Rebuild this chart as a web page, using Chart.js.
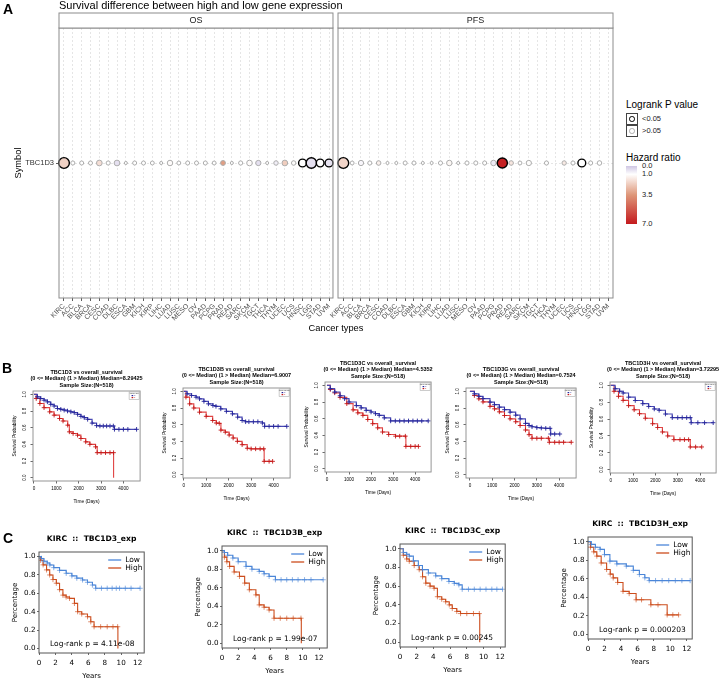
<!DOCTYPE html>
<html>
<head>
<meta charset="utf-8">
<title>TBC1D3 survival</title>
<script src="https://cdn.jsdelivr.net/npm/chart.js@4.4.1/dist/chart.umd.min.js"></script>
<style>
  body { margin: 0; background: #fff; }
  #page { position: relative; width: 724px; height: 681px; overflow: hidden; font-family: "Liberation Sans", Arial, sans-serif; }
  #page canvas { position: absolute; }
  .txt { position: absolute; white-space: nowrap; line-height: 1; color: #000; }
</style>
</head>
<body>
<div id="page">
  <canvas id="chartA" width="620" height="336" style="left:0;top:0"></canvas>
</div>
<script>
// ---------- panel A: bubble overview ----------
const geneSymbol = 'TBC1D3';
const cancerTypes = ['KIRC','ACC','BLCA','BRCA','CESC','COAD','DLBC','ESCA','GBM','KICH','KIRP','LIHC','LUAD','LUSC','MESO','OV',
  'PAAD','PCPG','PRAD','READ','SARC','SKCM','TGCT','THCA','THYM','UCEC','UCS','HNSC','LGG','STAD','UVM'];
const osHazard = [2.1,1.0,1.0,1.05,1.8,1.0,0.45,1.0,1.0,1.0,1.0,1.0,1.1,1.0,1.0,1.0,
  1.0,1.0,3.3,1.0,1.0,1.1,0.45,1.0,0.7,2.2,1.05,1.0,0.45,1.0,0.5];
const osPvalue = [0.0005,0.72,0.74,0.74,0.3,0.72,0.3,0.95,0.74,0.74,0.78,0.95,0.35,0.78,0.74,0.74,
  0.74,0.78,0.5,0.95,0.7,0.32,0.4,0.95,0.62,0.3,0.62,0.04,0.001,0.048,0.04];
const pfsHazard = [2.0,1.0,0.85,1.0,1.35,1.0,1.0,1.0,1.0,1.0,1.0,1.0,1.2,1.0,1.0,1.0,
  1.0,0.65,6.8,1.6,1.0,1.05,null,1.0,null,1.5,1.0,1.0,1.0,1.0,null];
const pfsPvalue = [0.0005,0.78,0.4,0.72,0.6,0.95,0.95,0.74,0.74,0.95,0.95,0.72,0.35,0.95,0.72,0.72,
  0.72,0.35,0.0015,0.6,0.78,0.4,null,0.72,null,0.65,0.72,0.04,0.72,0.6,null];
const hrLegendTicks = [0, 1, 3.5, 7];

// ---------- panel B: TCGA overall survival (days) ----------
const bGenes = ['TBC1D3','TBC1D3B','TBC1D3C','TBC1D3G','TBC1D3H'];
const bMedians = ['8.29425','6.9007','4.5352','0.7524','3.72295'];
const bSampleSize = 518;
const bXTicks = [0, 1000, 2000, 3000, 4000];
const survTicks = [0, 0.2, 0.4, 0.6, 0.8, 1.0];
const b1Low = [[0,1],[150,0.97],[300,0.95],[450,0.93],[600,0.91],[750,0.88],[900,0.86],[1050,0.83],[1200,0.82],[1350,0.81],[1500,0.8],[1650,0.79],
  [1800,0.78],[1950,0.76],[2100,0.735],[2250,0.72],[2400,0.7],[2600,0.655],[2800,0.625],[2950,0.62],[3100,0.62],[3250,0.62],[3400,0.62],[3550,0.62],
  [3600,0.58],[3800,0.58],[4000,0.58],[4200,0.58],[4590,0.58]];
const b1High = [[0,1],[100,0.95],[264,0.89],[450,0.84],[703,0.79],[900,0.75],[1143,0.71],[1300,0.68],[1509,0.63],[1582,0.55],[1750,0.53],[1948,0.51],
  [2100,0.47],[2315,0.43],[2500,0.4],[2755,0.37],[2828,0.3],[3000,0.3],[3200,0.3],[3400,0.3],[3560,0.3],[3561,0]];
const b2Low = [[0,1],[150,0.97],[350,0.95],[550,0.93],[703,0.91],[900,0.88],[1100,0.85],[1300,0.83],[1436,0.82],[1650,0.79],[1900,0.76],[2168,0.73],
  [2400,0.69],[2600,0.65],[2755,0.635],[2900,0.635],[3100,0.635],[3300,0.635],[3500,0.62],[3600,0.58],[3800,0.58],[4000,0.58],[4200,0.58],[4586,0.58]];
const b2High = [[0,1],[100,0.93],[264,0.85],[450,0.8],[703,0.75],[1000,0.7],[1289,0.65],[1450,0.62],[1582,0.615],[1656,0.535],[1850,0.51],[2022,0.476],
  [2200,0.44],[2388,0.4],[2600,0.36],[2828,0.317],[3000,0.31],[3200,0.31],[3400,0.31],[3560,0.31],[3580,0.16],[3800,0.16],[3956,0.16]];
const b3Low = [[0,1],[150,0.96],[350,0.92],[593,0.875],[800,0.84],[1000,0.8],[1333,0.757],[1550,0.73],[1778,0.7],[2000,0.68],[2200,0.66],[2370,0.64],
  [2600,0.61],[2889,0.573],[3100,0.573],[3300,0.573],[3500,0.573],[3700,0.573],[3900,0.573],[4100,0.573],[4300,0.573],[4593,0.573]];
const b3High = [[0,1],[150,0.95],[350,0.91],[593,0.855],[900,0.78],[1185,0.706],[1400,0.67],[1630,0.64],[1850,0.59],[2074,0.54],[2300,0.49],[2519,0.44],
  [2800,0.41],[3111,0.39],[3300,0.39],[3556,0.39],[3580,0.267],[3800,0.267],[4000,0.267],[4148,0.267]];
const b4Low = [[0,1],[200,0.97],[400,0.94],[586,0.913],[900,0.87],[1100,0.84],[1319,0.81],[1550,0.78],[1800,0.75],[2051,0.714],[2250,0.67],[2491,0.615],
  [2650,0.59],[2784,0.575],[3000,0.565],[3200,0.56],[3400,0.556],[3590,0.556],[3620,0.488],[3800,0.488],[4029,0.488]];
const b4High = [[0,1],[200,0.95],[400,0.91],[586,0.873],[900,0.82],[1100,0.79],[1319,0.754],[1550,0.71],[1800,0.67],[2051,0.635],[2250,0.59],[2491,0.536],
  [2650,0.48],[2784,0.437],[3000,0.437],[3200,0.437],[3516,0.437],[3560,0.389],[3800,0.389],[4000,0.389],[4200,0.389],[4542,0.389]];
const b5Low = [[0,1],[200,0.96],[400,0.93],[557,0.91],[800,0.86],[1100,0.82],[1436,0.783],[1700,0.75],[1950,0.72],[2168,0.704],[2450,0.66],[2755,0.617],
  [3000,0.617],[3200,0.617],[3400,0.617],[3560,0.617],[3600,0.557],[3900,0.557],[4200,0.557],[4586,0.557]];
const b5High = [[0,1],[150,0.93],[350,0.87],[557,0.822],[800,0.76],[1050,0.71],[1289,0.664],[1550,0.61],[1875,0.545],[2100,0.5],[2315,0.447],[2550,0.4],
  [2828,0.356],[3100,0.356],[3300,0.356],[3487,0.356],[3560,0.269],[3800,0.269],[4073,0.269]];

// ---------- panel C: KIRC survival (years) ----------
const cCancer = 'KIRC';
const cGenes = ['TBC1D3','TBC1D3B','TBC1D3C','TBC1D3H'];
const cLogrankP = ['4.11e-08','1.99e-07','0.00245','0.000203'];
const cGroups = ['Low','High'];
const cXTicks = [0, 2, 4, 6, 8, 10, 12];
const c1Low = [[0,1],[0.3,0.98],[0.6,0.95],[1.0,0.93],[1.32,0.909],[1.8,0.88],[2.5,0.85],[3.31,0.818],[4.0,0.79],[4.6,0.765],[5.3,0.745],[5.9,0.72],
  [6.5,0.69],[6.9,0.655],[7.6,0.655],[8.3,0.655],[8.9,0.655],[9.4,0.655],[9.8,0.655],[10.5,0.655],[11.2,0.655],[12.3,0.655]];
const c1High = [[0,1],[0.2,0.96],[0.5,0.91],[0.92,0.855],[1.3,0.8],[1.7,0.75],[2.11,0.71],[2.5,0.64],[2.91,0.58],[3.3,0.56],[3.71,0.545],[4.31,0.49],
  [4.7,0.4],[5.2,0.375],[5.9,0.345],[6.3,0.29],[6.7,0.236],[7.5,0.236],[8.3,0.236],[9.0,0.236],[9.57,0.236],[9.6,0]];
const c2Low = [[0,1],[0.3,0.98],[0.7,0.95],[1.34,0.92],[2.0,0.88],[2.97,0.83],[3.7,0.8],[4.6,0.776],[5.2,0.75],[5.82,0.722],[6.6,0.686],[7.3,0.686],
  [8.0,0.686],[8.7,0.686],[9.4,0.686],[10.2,0.686],[11.0,0.686],[12.5,0.686]];
const c2High = [[0,1],[0.3,0.93],[0.6,0.88],[0.94,0.83],[1.5,0.77],[2.16,0.722],[2.8,0.65],[3.38,0.578],[4.19,0.523],[4.6,0.415],[5.2,0.39],[5.82,0.36],
  [6.43,0.271],[7.2,0.271],[8.0,0.271],[8.8,0.271],[9.76,0.271],[9.8,0]];
const c3Low = [[0,1],[0.4,0.96],[0.8,0.94],[1.11,0.92],[1.6,0.87],[2.2,0.82],[2.69,0.776],[3.4,0.74],[4.28,0.71],[5.0,0.68],[5.86,0.65],[6.5,0.63],
  [7.05,0.614],[7.45,0.567],[8.2,0.567],[8.9,0.567],[9.6,0.567],[10.3,0.567],[11.0,0.567],[11.6,0.567],[12.28,0.567]];
const c3High = [[0,1],[0.4,0.93],[0.8,0.89],[1.11,0.866],[1.7,0.82],[2.3,0.776],[2.7,0.7],[3.09,0.632],[3.6,0.6],[4.08,0.578],[4.48,0.487],[5.0,0.46],
  [5.47,0.433],[5.9,0.4],[6.26,0.361],[6.8,0.33],[7.25,0.307],[8.0,0.307],[8.8,0.307],[9.5,0.307],[9.55,0]];
const c4Low = [[0,1],[0.4,0.97],[0.9,0.94],[1.47,0.917],[2.0,0.86],[2.66,0.79],[3.5,0.76],[4.65,0.736],[5.5,0.69],[6.24,0.645],[6.9,0.61],[7.43,0.58],
  [8.2,0.58],[9.0,0.58],[9.8,0.58],[10.6,0.58],[11.4,0.58],[12.4,0.58]];
const c4High = [[0,1],[0.3,0.94],[0.7,0.89],[1.07,0.844],[1.6,0.77],[2.26,0.7],[2.7,0.65],[3.06,0.609],[3.6,0.56],[4.25,0.464],[5.0,0.44],[5.84,0.373],
  [6.5,0.373],[7.63,0.319],[8.5,0.319],[9.61,0.21],[10.3,0.21],[11.0,0.21]];

// ---------- helpers ----------
const page = document.getElementById('page');
Chart.defaults.font.family = "'Liberation Sans', Arial, sans-serif";
Chart.defaults.animation = false;

function addText(str, x, y, css, align) {
  const d = document.createElement('div');
  d.className = 'txt';
  d.textContent = str;
  d.style.cssText = css || '';
  d.style.left = x + 'px';
  d.style.top = y + 'px';
  const tx = align === 'center' ? '-50%' : (align === 'right' ? '-100%' : '0');
  d.style.transform = 'translate(' + tx + ',-50%)';
  page.appendChild(d);
  return d;
}

// hazard ratio -> fill colour (lavender below 1, white at 1, red above)
const hrStops = [[0, [207, 198, 227]], [1, [255, 255, 255]], [3.5, [222, 150, 120]], [7, [196, 26, 30]]];
function hrColor(h) {
  for (let i = 1; i < hrStops.length; i++) {
    if (h <= hrStops[i][0]) {
      const a = hrStops[i - 1], b = hrStops[i];
      const t = (h - a[0]) / (b[0] - a[0]);
      return 'rgb(' + a[1].map((c, k) => Math.round(c + (b[1][k] - c) * t)).join(',') + ')';
    }
  }
  return 'rgb(' + hrStops[hrStops.length - 1][1].join(',') + ')';
}
function pRadius(p) { return 1.2 + 2.3 * Math.sqrt(-Math.log10(p)); }

// ---------- panel A chart ----------
const pfsOffset = 31.62;
const facets = [[-0.566, 30.45, 'OS'], [31.02, 62.15, 'PFS']];
const xTickPos = cancerTypes.map((c, i) => i).concat(cancerTypes.map((c, i) => pfsOffset + i));
const xTickLabels = cancerTypes.concat(cancerTypes);

function bubblePoints(hz, pv, offset) {
  const pts = [];
  hz.forEach((h, i) => {
    if (h === null) return;
    pts.push({ x: offset + i, y: 0, r: pRadius(pv[i]), hr: h, p: pv[i] });
  });
  return pts;
}
function bubbleSet(label, pts) {
  return {
    label: label, data: pts, clip: false,
    backgroundColor: c => hrColor(c.raw.hr),
    borderColor: c => c.raw.p < 0.05 ? '#000' : '#adadad',
    borderWidth: c => c.raw.p < 0.05 ? 1.4 : 1
  };
}

const facetPlugin = {
  id: 'facets',
  beforeDatasetsDraw(chart) {
    const { ctx, chartArea: a, scales: { x } } = chart;
    const g0 = x.getPixelForValue(facets[0][1]), g1 = x.getPixelForValue(facets[1][0]);
    ctx.save();
    ctx.fillStyle = '#fff';
    ctx.fillRect(g0, a.top - 1, g1 - g0, a.bottom - a.top + 2);
    ctx.restore();
  },
  afterDraw(chart) {
    const { ctx, chartArea: a, scales: { x } } = chart;
    ctx.save();
    ctx.strokeStyle = '#8c8c8c';
    ctx.lineWidth = 1;
    facets.forEach(f => {
      const l = x.getPixelForValue(f[0]), r = x.getPixelForValue(f[1]);
      ctx.strokeRect(l, a.top, r - l, a.bottom - a.top);
      ctx.fillStyle = '#fff';
      ctx.fillRect(l, 13, r - l, a.top - 13);
      ctx.strokeRect(l, 13, r - l, a.top - 13);
      ctx.fillStyle = '#1a1a1a';
      ctx.font = "9px 'Liberation Sans', Arial, sans-serif";
      ctx.textAlign = 'center';
      ctx.textBaseline = 'middle';
      ctx.fillText(f[2], (l + r) / 2, (13 + a.top) / 2 + 0.5);
    });
    ctx.fillStyle = '#000';
    ctx.font = "11px 'Liberation Sans', Arial, sans-serif";
    ctx.textAlign = 'left';
    ctx.fillText('Survival difference between high and low gene expression', a.left, 6);
    ctx.restore();
  }
};

new Chart(document.getElementById('chartA'), {
  type: 'bubble',
  data: { datasets: [bubbleSet('OS', bubblePoints(osHazard, osPvalue, 0)), bubbleSet('PFS', bubblePoints(pfsHazard, pfsPvalue, pfsOffset))] },
  options: {
    responsive: false, events: [],
    layout: { padding: { left: 0, top: 28, right: 7, bottom: 0 } },
    plugins: { legend: { display: false }, tooltip: { enabled: false } },
    scales: {
      x: {
        type: 'linear', min: facets[0][0], max: facets[1][1], bounds: 'data',
        afterBuildTicks: s => { s.ticks = xTickPos.map(v => ({ value: v })); },
        afterFit: s => { s.height = 38; },
        ticks: { autoSkip: false, minRotation: 45, maxRotation: 45, padding: 1, font: { size: 7 }, color: '#4d4d4d',
          callback: (v, i) => xTickLabels[i] },
        grid: { color: '#d4d4d4', lineWidth: 0.6, tickColor: '#333', tickLength: 3, tickWidth: 0.8, tickBorderDash: [] },
        border: { display: false, dash: [2, 2] },
        title: { display: true, text: 'Cancer types', font: { size: 9.3 }, color: '#000', padding: { top: 0, bottom: 2.3 } }
      },
      y: {
        type: 'linear', min: -1, max: 1, bounds: 'data',
        afterBuildTicks: s => { s.ticks = [{ value: 0 }]; },
        afterFit: s => { s.width = 59; },
        ticks: { padding: 2, font: { size: 7.5 }, color: '#333', callback: () => geneSymbol },
        grid: { color: '#d4d4d4', lineWidth: 0.6, tickColor: '#333', tickLength: 3, tickWidth: 0.8, tickBorderDash: [] },
        border: { display: false, dash: [2, 2] },
        title: { display: true, text: 'Symbol', font: { size: 9.3 }, color: '#000', padding: { top: 12.5, bottom: 0 } }
      }
    }
  },
  plugins: [facetPlugin]
});

// panel A legend
addText('Logrank P value', 626, 105, 'font-size:10px;');
[[119, '#000', '<0.05'], [131, '#adadad', '>0.05']].forEach(k => {
  const box = document.createElement('div');
  box.style.cssText = 'position:absolute;left:626px;width:10px;height:10.5px;border:1px solid #444;background:#fff;top:' + (k[0] - 6.2) + 'px';
  const dot = document.createElement('div');
  dot.style.cssText = 'position:absolute;left:2.3px;top:2.5px;width:3.6px;height:3.6px;border-radius:50%;border:1.1px solid ' + k[1];
  box.appendChild(dot);
  page.appendChild(box);
  addText(k[2], 642, k[0], 'font-size:7.5px;color:#222;');
});
addText('Hazard ratio', 626, 158, 'font-size:10px;');
const barTop = 166, barH = 58, hrMax = 7;
const bar = document.createElement('div');
bar.style.cssText = 'position:absolute;left:626px;width:11px;top:' + barTop + 'px;height:' + barH + 'px;background:linear-gradient(to bottom,' +
  hrStops.map(s => 'rgb(' + s[1].join(',') + ') ' + (s[0] / hrMax * 100).toFixed(1) + '%').join(',') + ')';
page.appendChild(bar);
hrLegendTicks.forEach(v => addText(v.toFixed(1), 642, barTop + v / hrMax * barH, 'font-size:7.5px;color:#222;'));

// panel letters
addText('A', 3, 9, 'font-size:14px;font-weight:bold;');
addText('B', 2, 368, 'font-size:14px;font-weight:bold;');
addText('C', 3, 538, 'font-size:14px;font-weight:bold;');

// ---------- Kaplan-Meier charts ----------
const rStyle = {
  family: "'Liberation Sans', Arial, sans-serif", tickSize: 4.6, tickLen: 2.5, xTickPad: 2.7, yTickPad: 2,
  axisSize: 4.8, xTitleDist: 21, yTitleDist: 18.5, rotY: 8, boxColor: '#8a8a8a', boxW: 0.9,
  titleFont: "bold 5.5px 'Liberation Sans', Arial, sans-serif", titleOffsets: [-19, -12.3, -5.6],
  margin: [24, 23, 3, 25], lineW: 1.1, pointR: 2.3, pointW: 0.9, yMin: -0.04, yMax: 1.04
};
const pyStyle = {
  family: "'DejaVu Sans', sans-serif", tickSize: 7.2, tickLen: 2, xTickPad: 3.5, yTickPad: 1.5,
  axisSize: 7, xTitleDist: 23.5, yTitleDist: 24, rotY: 0, boxColor: '#555', boxW: 1,
  titleFont: "bold 7.6px 'DejaVu Sans', sans-serif", titleOffsets: [-13], legendSize: 7.5,
  margin: [32, 19, 3, 28], lineW: 1.1, pointR: 2.6, pointW: 0.8, yMin: -0.05, yMax: 1.05
};
const bColors = [{ line: '#4848b4', mark: '#24249a' }, { line: '#e04444', mark: '#c41818' }];
const cColors = [{ line: '#4b86d8', mark: 'rgba(75,134,216,0.8)' }, { line: '#cc4d1d', mark: 'rgba(204,77,29,0.8)' }];

function decorPlugin(o, st) {
  return {
    id: 'decor',
    afterDraw(chart) {
      const ctx = chart.ctx, a = chart.chartArea, cx = (a.left + a.right) / 2;
      ctx.save();
      ctx.strokeStyle = st.boxColor;
      ctx.lineWidth = st.boxW;
      ctx.strokeRect(a.left, a.top, a.right - a.left, a.bottom - a.top);
      ctx.fillStyle = '#000';
      ctx.textAlign = 'center';
      ctx.textBaseline = 'middle';
      ctx.font = st.titleFont;
      o.title.forEach((s, i) => ctx.fillText(s, cx, a.top + st.titleOffsets[i]));
      if (st.rotY) {
        const ys = chart.scales.y;
        ctx.font = st.tickSize + 'px ' + st.family;
        ys.ticks.forEach(t => {
          ctx.save();
          ctx.translate(a.left - st.rotY, ys.getPixelForValue(t.value));
          ctx.rotate(-Math.PI / 2);
          ctx.fillText(t.value.toFixed(1), 0, 0);
          ctx.restore();
        });
        // tiny group key in the corner
        ctx.strokeStyle = '#999';
        ctx.lineWidth = 0.5;
        ctx.strokeRect(a.right - 11, a.top + 1, 10, 7.5);
        ctx.font = '2.4px ' + st.family;
        ctx.fillStyle = '#555';
        ctx.fillText(o.gene, a.right - 6, a.top + 2.6);
        o.colors.forEach((c, k) => {
          ctx.fillStyle = c.mark;
          ctx.fillRect(a.right - 8.5, a.top + 4 + k * 2, 1.6, 1.2);
          ctx.fillText(String(k), a.right - 5.5, a.top + 4.6 + k * 2);
        });
      } else {
        ctx.font = st.legendSize + 'px ' + st.family;
        ctx.textAlign = 'left';
        o.groups.forEach((lab, k) => {
          const y = a.top + 8 + 8 * k;
          ctx.strokeStyle = o.colors[k].line;
          ctx.lineWidth = 1.3;
          ctx.beginPath();
          ctx.moveTo(a.right - 36, y);
          ctx.lineTo(a.right - 23, y);
          ctx.stroke();
          ctx.fillStyle = '#000';
          ctx.fillText(lab, a.right - 19, y);
        });
        ctx.fillText(o.note, a.left + 11, a.bottom - 8.5);
      }
      ctx.restore();
    }
  };
}

function kmChart(o, st) {
  const f = o.frame, m = st.margin;
  const cv = document.createElement('canvas');
  cv.width = f[2] - f[0] + m[0] + m[2];
  cv.height = f[3] - f[1] + m[1] + m[3];
  cv.style.left = (f[0] - m[0]) + 'px';
  cv.style.top = (f[1] - m[1]) + 'px';
  page.appendChild(cv);
  const lh = st.axisSize * 1.2;
  const tickFont = { size: st.tickSize, family: st.family };
  new Chart(cv, {
    type: 'line',
    data: {
      datasets: o.curves.map((pts, k) => ({
        data: pts, stepped: true, fill: false,
        borderColor: o.colors[k].line, borderWidth: st.lineW,
        pointStyle: 'cross',
        pointRadius: c => (c.dataIndex === 0 || c.parsed.y === 0) ? 0 : st.pointR,
        pointBorderColor: o.colors[k].mark, pointBorderWidth: st.pointW
      }))
    },
    options: {
      responsive: false, events: [],
      layout: { padding: { left: 0, top: m[1], right: m[2], bottom: 0 } },
      plugins: { legend: { display: false }, tooltip: { enabled: false } },
      scales: {
        x: {
          type: 'linear', min: o.xRange[0], max: o.xRange[1], bounds: 'data',
          afterBuildTicks: s => { s.ticks = o.xTicks.map(v => ({ value: v })); },
          afterFit: s => { s.height = m[3]; },
          ticks: { font: tickFont, color: '#000', padding: st.xTickPad, maxRotation: 0, autoSkip: false, callback: v => String(v) },
          grid: { drawOnChartArea: false, tickLength: st.tickLen, tickColor: '#444', tickWidth: 0.8 },
          border: { display: false },
          title: { display: true, text: o.xTitle, font: { size: st.axisSize, family: st.family }, color: '#000',
            padding: { top: 0, bottom: m[3] - st.xTitleDist - lh / 2 } }
        },
        y: {
          type: 'linear', min: st.yMin, max: st.yMax, bounds: 'data',
          afterBuildTicks: s => { s.ticks = survTicks.map(v => ({ value: v })); },
          afterFit: s => { s.width = m[0]; },
          ticks: { display: !st.rotY, font: tickFont, color: '#000', padding: st.yTickPad, callback: v => v.toFixed(1) },
          grid: { drawOnChartArea: false, tickLength: st.tickLen, tickColor: '#444', tickWidth: 0.8 },
          border: { display: false },
          title: { display: true, text: o.yTitle, font: { size: st.axisSize, family: st.family }, color: '#000',
            padding: { top: m[0] - st.yTitleDist - lh / 2, bottom: 0 } }
        }
      }
    },
    plugins: [decorPlugin(o, st)]
  });
}

// panel B layout: plot box in page pixels and x range in days
const bFrames = [[33, 391, 142, 481], [183, 388, 292, 478], [325, 382, 433, 472], [466, 388, 578, 478], [610, 382, 718, 473]];
const bXRanges = [[-44, 4747], [-31, 4734], [-89, 4724], [-176, 4760], [-30, 4716]];
const bCurves = [[b1Low, b1High], [b2Low, b2High], [b3Low, b3High], [b4Low, b4High], [b5Low, b5High]];
bGenes.forEach((g, i) => kmChart({
  frame: bFrames[i], xRange: bXRanges[i], curves: bCurves[i], colors: bColors, xTicks: bXTicks, gene: g,
  title: [g + ' vs overall_survival', '(0 <= Median) (1 > Median) Median=' + bMedians[i], 'Sample Size:(N=' + bSampleSize + ')'],
  xTitle: 'Time (Days)', yTitle: 'Survival Probability'
}, rStyle));

// panel C layout
const cFrames = [[39, 552, 146, 653], [222, 546, 329, 648], [400, 544, 507, 647], [588, 537, 694, 639]];
const cXMax = [12.8, 13.0, 12.6, 12.65];
const cCurves = [[c1Low, c1High], [c2Low, c2High], [c3Low, c3High], [c4Low, c4High]];
cGenes.forEach((g, i) => kmChart({
  frame: cFrames[i], xRange: [0, cXMax[i]], curves: cCurves[i], colors: cColors, xTicks: cXTicks, groups: cGroups,
  title: [cCancer + '  ::  ' + g + '_exp'], note: 'Log-rank p = ' + cLogrankP[i],
  xTitle: 'Years', yTitle: 'Percentage'
}, pyStyle));
</script>
